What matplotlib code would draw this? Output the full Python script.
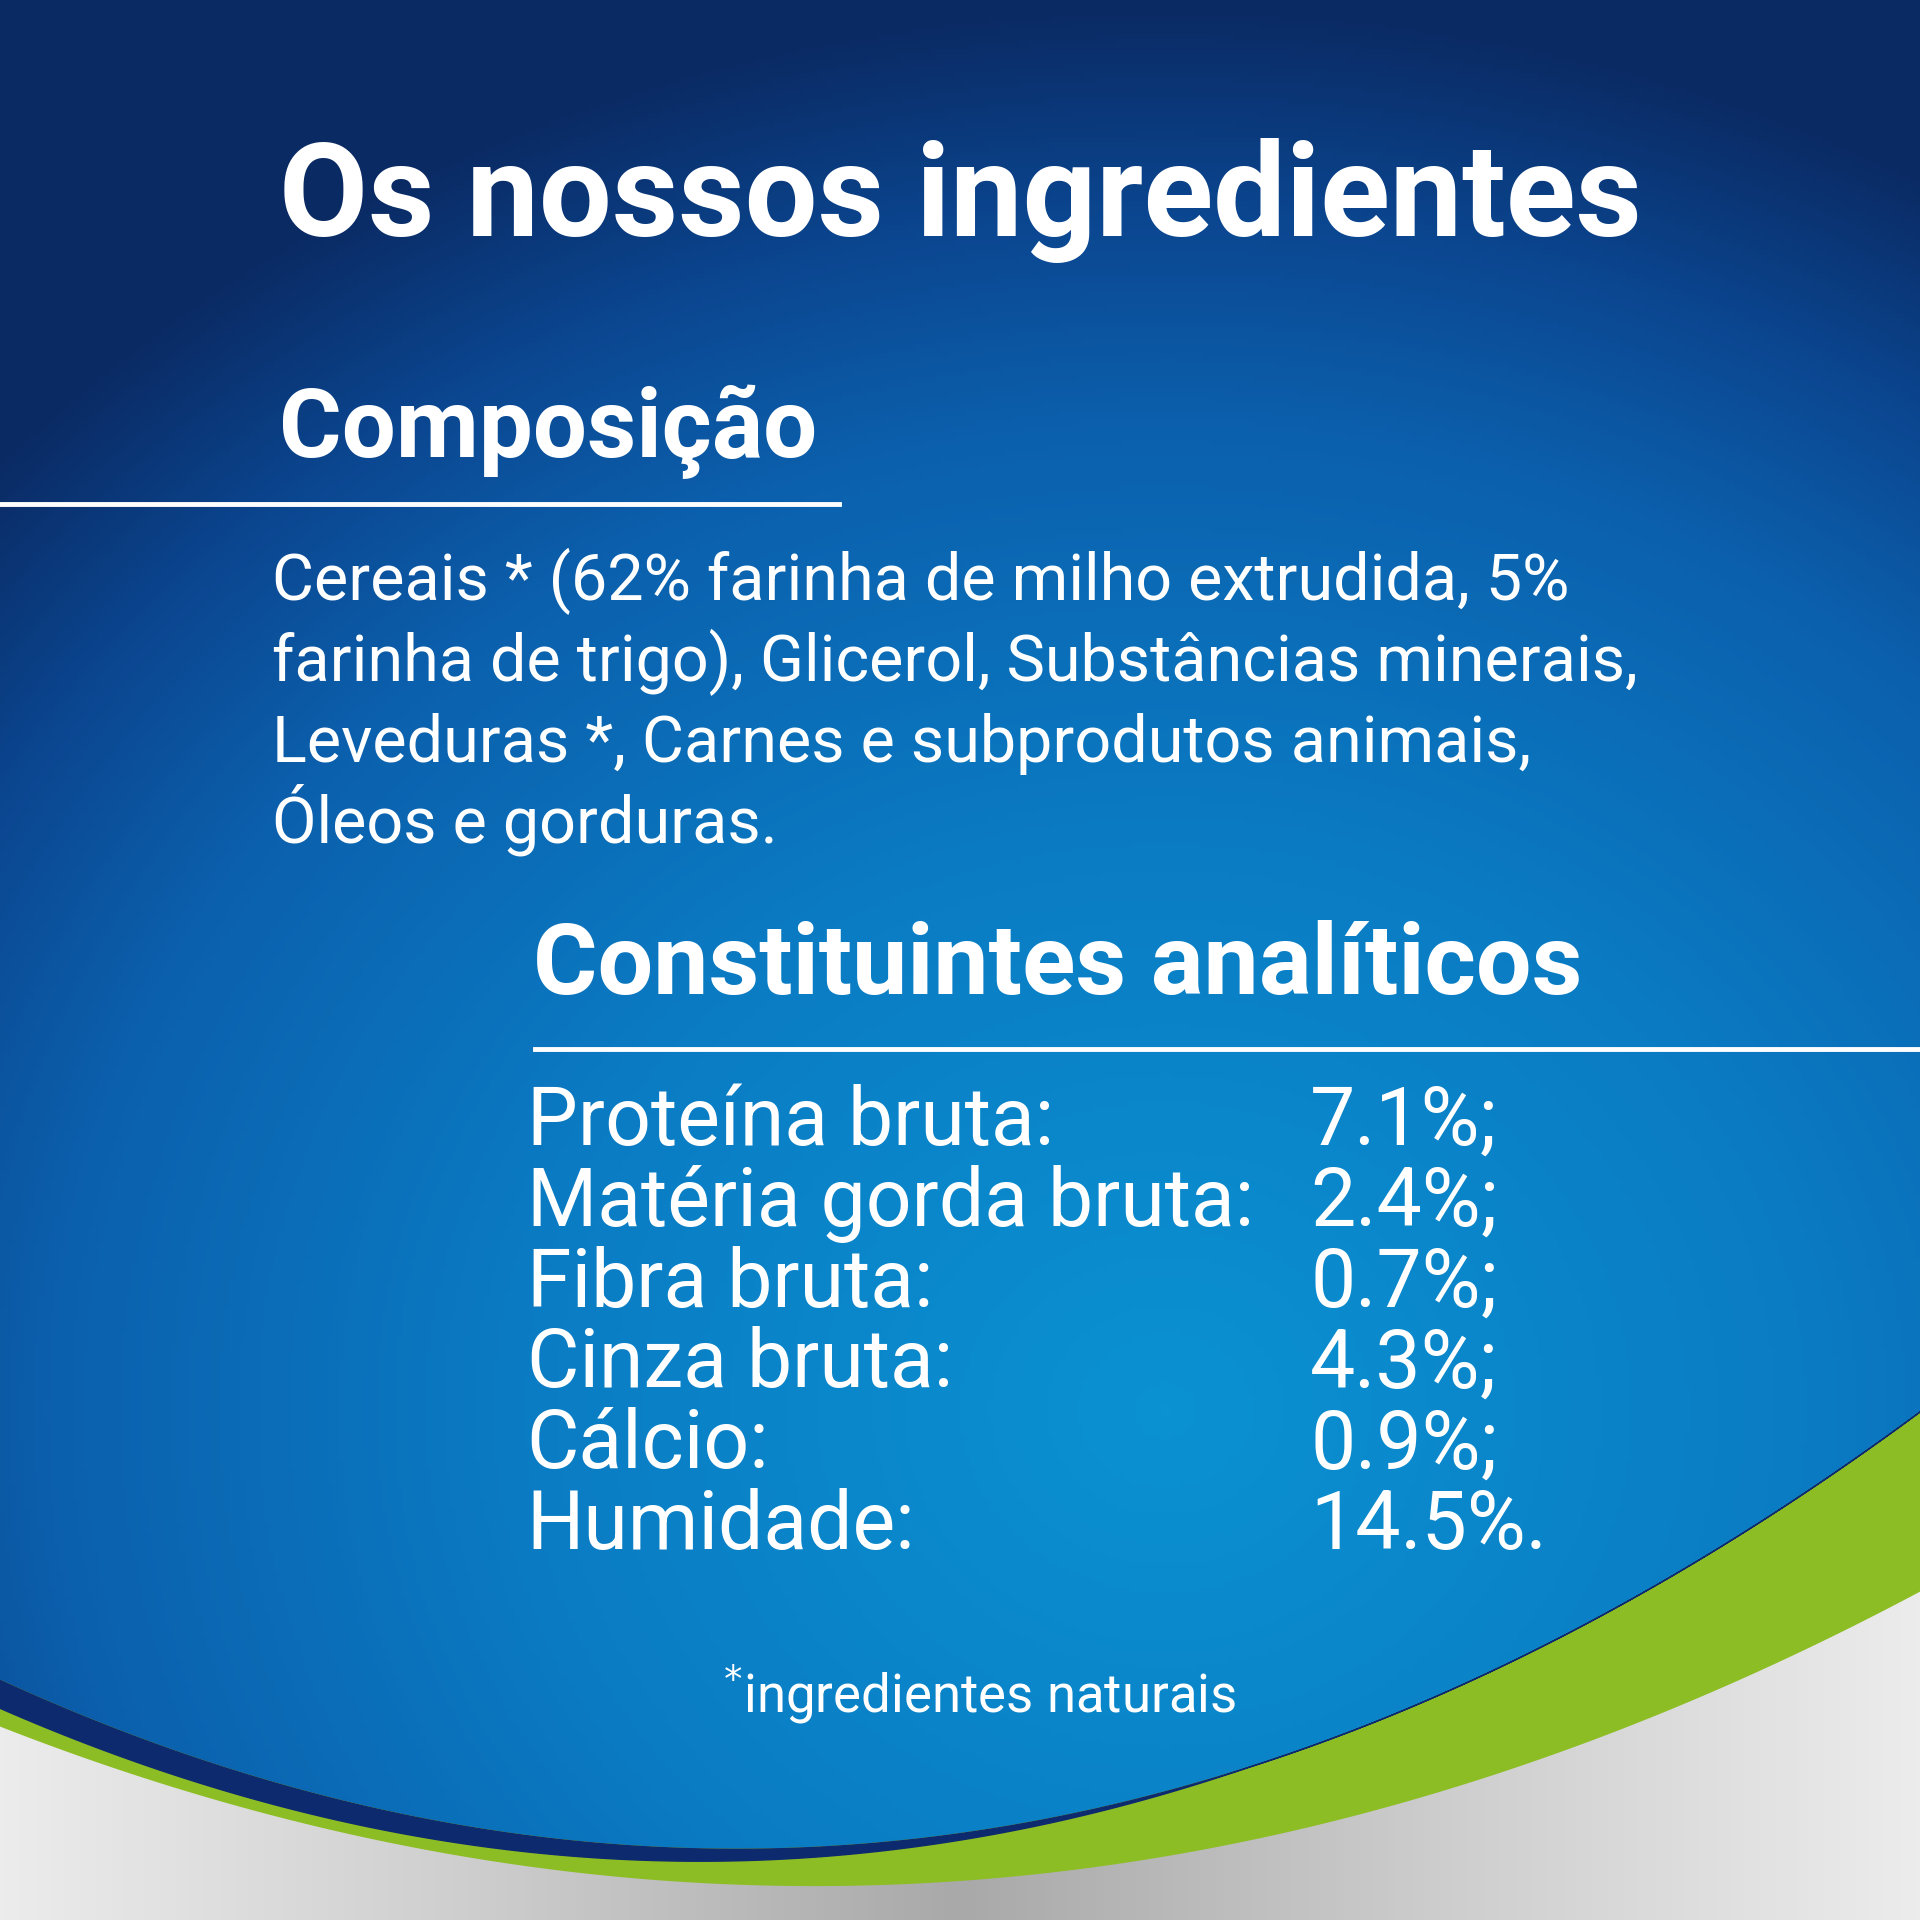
import numpy as np
import matplotlib
matplotlib.use("Agg")
import matplotlib.pyplot as plt
from matplotlib.colors import LinearSegmentedColormap

title = "Os nossos ingredientes"
sec1 = "Composição"
body = ["Cereais * (62% farinha de milho extrudida, 5%",
        "farinha de trigo), Glicerol, Substâncias minerais,",
        "Leveduras *, Carnes e subprodutos animais,",
        "Óleos e gorduras."]
sec2 = "Constituintes analíticos"
labels = ["Proteína bruta:", "Matéria gorda bruta:", "Fibra bruta:", "Cinza bruta:", "Cálcio:", "Humidade:"]
values = ["7.1%;", "2.4%;", "0.7%;", "4.3%;", "0.9%;", "14.5%."]
footer = "ingredientes naturais"

W = 1568
fig = plt.figure(figsize=(19.2, 19.2), dpi=100)
ax = fig.add_axes([0, 0, 1, 1])
ax.set_xlim(0, W); ax.set_ylim(W, 0); ax.axis("off")

yy, xx = np.mgrid[0:W:4, 0:W:4]
r = np.sqrt(((xx - 950) / 1300.0) ** 2 + ((yy - 1150) / 1150.0) ** 2)
r = np.clip(r, 0, 1)
cmap = LinearSegmentedColormap.from_list(
    "bg", [(0, "#0a92d2"), (0.4, "#0a7cc4"), (0.7, "#0c60ad"), (0.85, "#0b4690"), (1, "#0a2a63")])
ax.imshow(r, cmap=cmap, vmin=0, vmax=1, extent=[0, W, W, 0], zorder=0, aspect="auto")

x = np.linspace(0, W, 400)
s = 1920 / 1568
xs = x * s
blue = (1680 + 0.459 * xs - 3.12e-4 * xs ** 2) / s
thick = np.clip(28 * (1 - xs / 1250), 0, None) / s
navy = blue + thick
gb = 1410 + 0.392 * x - 2.948e-4 * x ** 2
gb = np.maximum(gb, navy + 3)
ax.fill_between(x, blue, W, color="#8dbd24", zorder=1)
ax.fill_between(x, blue, navy, color="#0d2a6e", zorder=2)
gx = np.linspace(0, 1, 480)
gimg = np.abs(gx - 0.5)[None, :]
gcm = LinearSegmentedColormap.from_list("g", ["#a9a9a9", "#cdcdcd", "#ececec"])
im = ax.imshow(np.tile(gimg, (40, 1)), cmap=gcm, vmin=0, vmax=0.5,
               extent=[0, W, W, 1200], zorder=3, aspect="auto")
poly = ax.fill_between(x, gb, W, color="none", zorder=3)
im.set_clip_path(poly.get_paths()[0], transform=ax.transData)

f = "Roboto"
ax.text(228, 193, title, fontsize=93, fontweight="bold", color="white", family=f, zorder=5)
ax.text(228, 373, sec1, fontsize=69, fontweight="bold", color="white", family=f, zorder=5)
ax.plot([0, 685], [412, 412], color="white", lw=3.5, zorder=5)
for i, t in enumerate(body):
    ax.text(222, 490 + i * 66, t, fontsize=46.5, color="white", family=f, zorder=5)
ax.text(435, 812, sec2, fontsize=71, fontweight="bold", color="white", family=f, zorder=5)
ax.plot([437, W], [857, 857], color="white", lw=3.5, zorder=5)
for i, (l, v) in enumerate(zip(labels, values)):
    yb = 935 + i * 66
    ax.text(430, yb, l, fontsize=58, color="white", family=f, zorder=5)
    ax.text(1070, yb, v, fontsize=58, color="white", family=f, zorder=5)
ax.text(800, 1398, "$^{*}$" + footer, fontsize=38, color="white", family=f, zorder=5, ha="center")

fig.savefig("out.png", dpi=100)
